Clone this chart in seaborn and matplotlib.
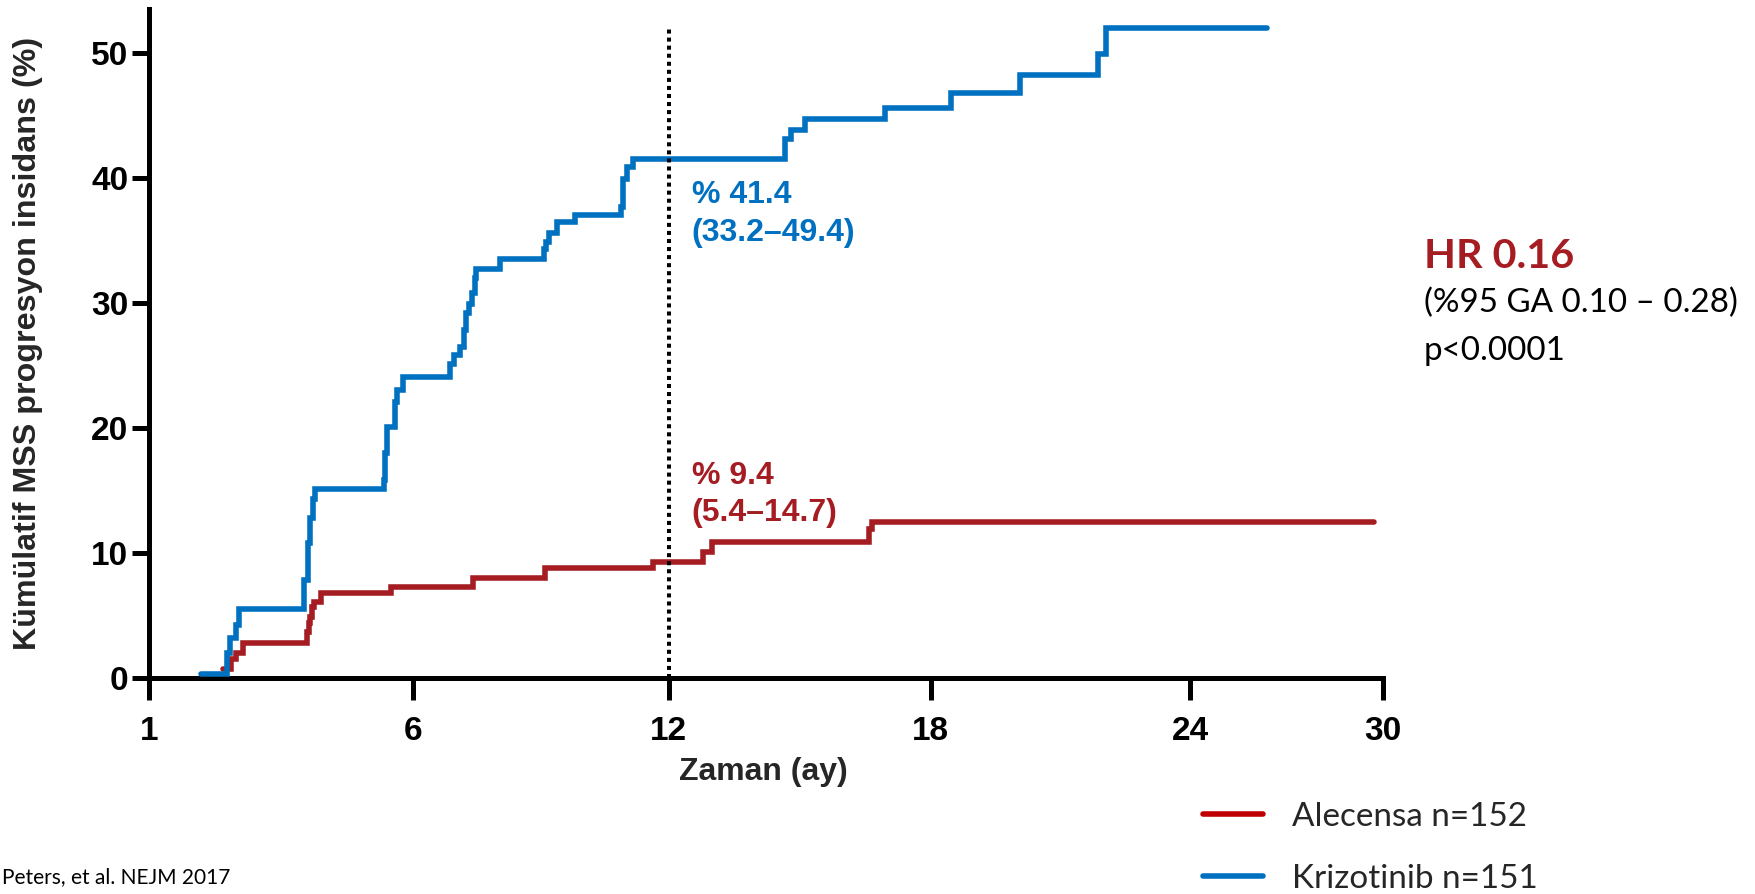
import numpy as np
import pandas as pd
import matplotlib
matplotlib.use("Agg")
import matplotlib.pyplot as plt
import seaborn as sns
from matplotlib.lines import Line2D

# ---------------- data ----------------
kriz_months = [1.19, 1.81, 1.86, 2.00, 2.08, 3.57, 3.67, 3.72, 3.78, 3.84,
               5.42, 5.45, 5.50, 5.68, 5.72, 5.86, 6.96, 7.05, 7.18, 7.27,
               7.31, 7.40, 7.45, 7.53, 7.56, 8.11, 9.13, 9.17, 9.23, 9.43,
               9.83, 10.89, 10.94, 11.03, 11.18, 14.68, 14.82, 15.15, 17.00,
               18.52, 20.12, 21.92, 22.10, 25.82]
kriz_pct = [0.3, 2.0, 3.2, 4.2, 5.5, 7.8, 10.8, 12.8, 14.3, 15.1,
            15.8, 18.0, 20.1, 22.1, 23.0, 24.1, 25.1, 25.8, 26.5, 27.8,
            29.2, 29.9, 30.8, 32.0, 32.7, 33.5, 34.3, 34.9, 35.6, 36.5,
            37.0, 37.7, 39.9, 40.9, 41.5, 43.1, 43.8, 44.7, 45.6,
            46.8, 48.2, 49.9, 52.0, 52.0]

alec_months = [1.70, 1.90, 2.02, 2.17, 3.65, 3.69, 3.72, 3.76, 3.80, 3.98,
               5.60, 7.49, 9.14, 11.63, 12.79, 13.00, 16.62, 16.69, 28.30]
alec_pct = [0.7, 1.5, 2.0, 2.8, 3.7, 4.4, 4.9, 5.7, 6.1, 6.8,
            7.3, 8.0, 8.8, 9.3, 10.1, 10.85, 11.9, 12.5, 12.5]

arm_names = ["Alecensa", "Krizotinib"]
legend_labels = ["Alecensa n=152", "Krizotinib n=151"]
line_colors = {"Alecensa": "#A51D22", "Krizotinib": "#0070C0"}
legend_colors = ["#C00000", "#0070C0"]

x_tick_pos = [0, 6.1, 12, 18.05, 24.05, 28.5]
x_tick_labels = ["1", "6", "12", "18", "24", "30"]
y_ticks = [0, 10, 20, 30, 40, 50]

landmark_month = 12
landmark_top = 52

kriz_note = ["% 41.4", "(33.2\u201349.4)"]
alec_note = ["% 9.4", "(5.4\u201314.7)"]
hr_lines = ["HR 0.16", "(%95 GA 0.10 \u2013 0.28)", "p<0.0001"]
citation = "Peters, et al. NEJM 2017"

df = pd.concat([
    pd.DataFrame({"month": alec_months, "pct": alec_pct, "arm": "Alecensa"}),
    pd.DataFrame({"month": kriz_months, "pct": kriz_pct, "arm": "Krizotinib"}),
], ignore_index=True)

# ---------------- figure ----------------
sns.set_style("ticks")
plt.rcParams["font.family"] = ["Liberation Sans", "DejaVu Sans"]

W, H = 1755, 894
fig = plt.figure(figsize=(W / 100, H / 100), dpi=100)
ax = fig.add_axes([149 / W, (H - 678) / H, 1234 / W, 669 / H])

sns.lineplot(data=df, x="month", y="pct", hue="arm", hue_order=arm_names,
             palette=line_colors, estimator=None, sort=False,
             drawstyle="steps-post", linewidth=4, legend=False, ax=ax,
             zorder=3)
for ln in ax.lines:
    ln.set_solid_joinstyle("miter")

ax.vlines(landmark_month, 0, landmark_top, colors="black",
          linestyles=(0, (1, 1)), linewidth=2.9, zorder=5)

ax.set_xlim(0, 28.5)
ax.set_ylim(0, 53.5)
ax.set_xticks(x_tick_pos)
ax.set_xticklabels(x_tick_labels)
ax.set_yticks(y_ticks)

for s in ["top", "right"]:
    ax.spines[s].set_visible(False)
for s in ["left", "bottom"]:
    ax.spines[s].set_linewidth(3.6)
    ax.spines[s].set_color("black")
ax.spines["bottom"].set_capstyle("projecting")
ax.spines["left"].set_capstyle("projecting")

ax.tick_params(axis="x", direction="out", length=16, width=3.6, pad=11,
               labelsize=24, colors="black")
ax.tick_params(axis="y", direction="out", length=12, width=3.6, pad=3,
               labelsize=24, colors="black")
for lab in ax.get_xticklabels() + ax.get_yticklabels():
    lab.set_fontweight("bold")

ax.set_xlabel("Zaman (ay)", fontsize=23, fontweight="bold")
ax.set_ylabel("K\u00fcm\u00fclatif MSS progresyon insidans (%)",
              fontsize=23.2, fontweight="bold")
ax.xaxis.label.set_va("center")
ax.xaxis.set_label_coords(0.498, -0.1405)
ax.yaxis.label.set_va("center")
ax.yaxis.set_label_coords(-0.098, 0.5)

# annotations at 12 months
note_kw = dict(fontsize=23, fontweight="bold", ha="left", va="center")
ax.text(12.53, 38.6, kriz_note[0], color="#0070C0", **note_kw)
ax.text(12.53, 35.6, kriz_note[1], color="#0070C0", **note_kw)
ax.text(12.53, 16.15, alec_note[0], color="#A51D22", **note_kw)
ax.text(12.53, 13.2, alec_note[1], color="#A51D22", **note_kw)

# ---------------- side texts (Calibri-like) ----------------
sans = ["Lato", "DejaVu Sans"]
renderer = fig.canvas.get_renderer()


def fit_width(t, target_px):
    bb = t.get_window_extent(renderer)
    t.set_fontsize(t.get_fontsize() * target_px / bb.width)
    return t.get_fontsize()


x0 = 1424 / W
t_hr = fig.text(x0, (H - 268) / H, hr_lines[0], family=sans,
                fontweight="bold", color="#A51D22", fontsize=30,
                va="baseline", ha="left")
fit_width(t_hr, 150)
t_ci = fig.text(x0, (H - 312) / H, hr_lines[1], family=sans,
                color="black", fontsize=24, va="baseline", ha="left")
fs_ci = fit_width(t_ci, 314)
fig.text(x0, (H - 360) / H, hr_lines[2], family=sans, color="black",
         fontsize=fs_ci, va="baseline", ha="left")

t_cit = fig.text(2 / W, (H - 883) / H, citation, family=sans,
                 color="black", fontsize=14, va="baseline", ha="left")
fit_width(t_cit, 228)

# measure legend font size
t_tmp = fig.text(0, 0, legend_labels[0], family=sans, fontsize=26)
fs_leg = fit_width(t_tmp, 235)
t_tmp.remove()

handles = [Line2D([], [], color=c, linewidth=4) for c in legend_colors]
fs_px = fs_leg * 100 / 72
leg = fig.legend(handles, legend_labels, loc="center left",
                 bbox_to_anchor=(1203 / W, (H - 848) / H),
                 frameon=False, borderpad=0, borderaxespad=0,
                 handlelength=60 / fs_px, handletextpad=29 / fs_px,
                 labelspacing=0.97,
                 prop={"family": sans, "size": fs_leg})

fig.savefig("out.png", dpi=100)
